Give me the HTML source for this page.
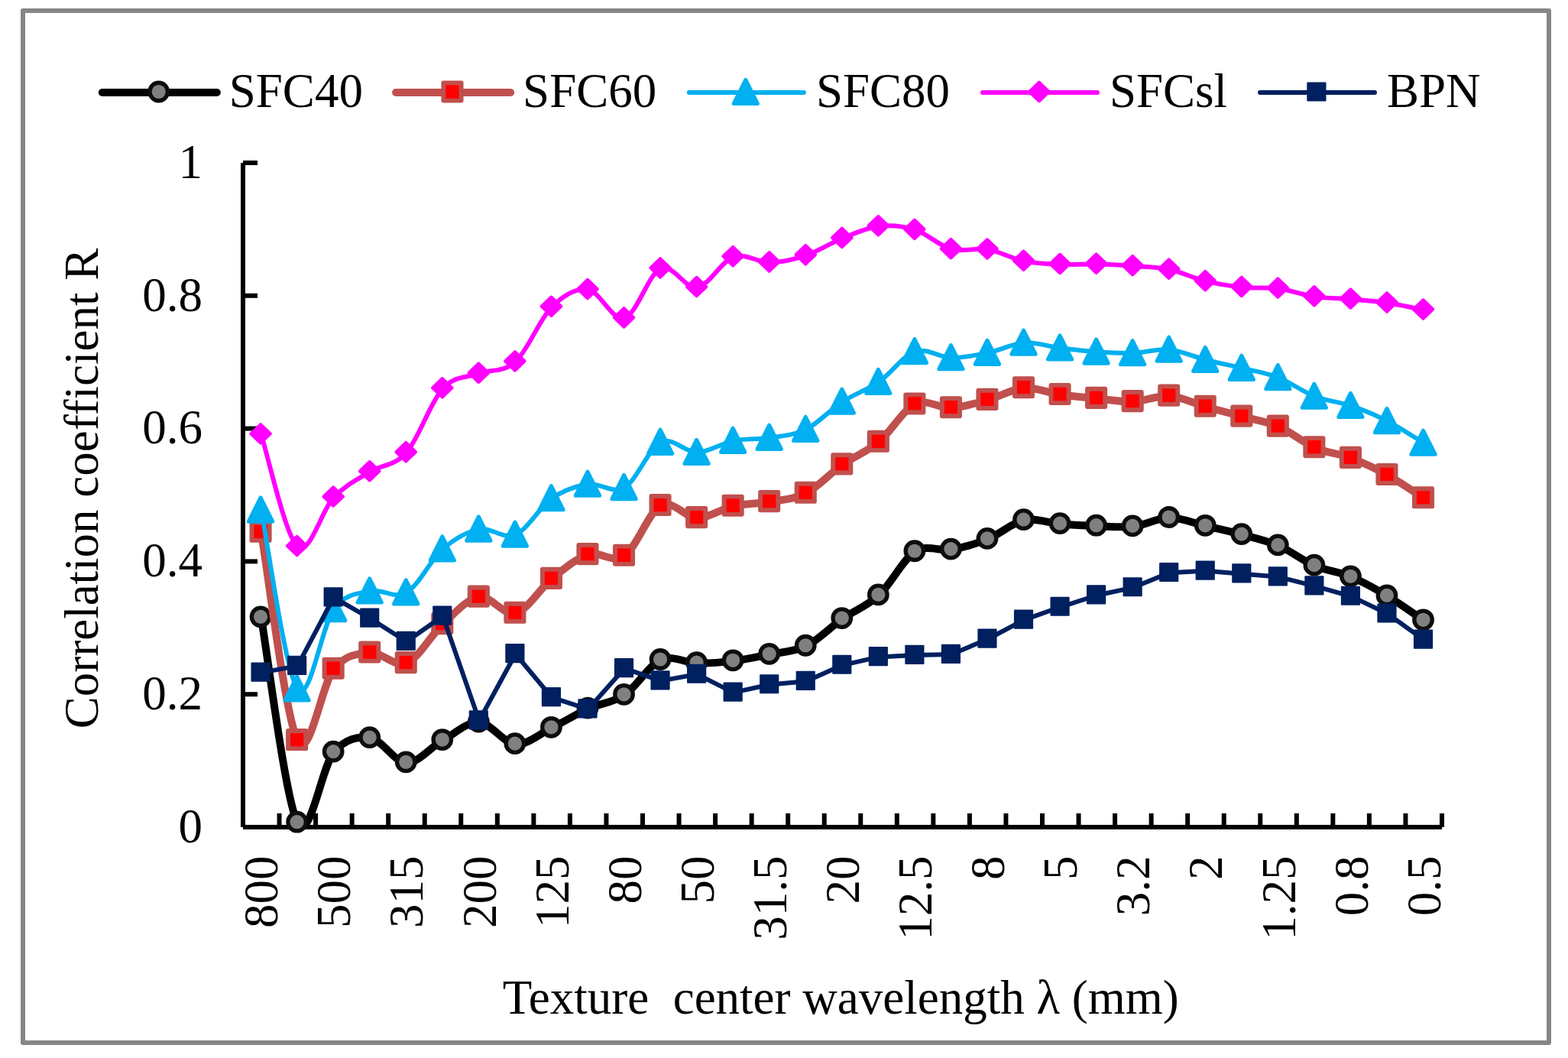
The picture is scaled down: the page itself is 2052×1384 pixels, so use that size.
<!DOCTYPE html>
<html><head><meta charset="utf-8"><title>Correlation coefficient chart</title>
<style>
html,body{margin:0;padding:0;background:#fff;}
body{width:2052px;height:1384px;overflow:hidden;}
svg{display:block;}
text{font-family:"Liberation Serif","Times New Roman",serif;fill:#000;}
</style></head><body>
<svg width="2052" height="1384" viewBox="0 0 2052 1384">
<defs>
<g id="mc"><circle r="11.75" fill="#808080" stroke="#0D0D0D" stroke-width="5.3"/></g>
<g id="ms"><rect x="-11.6" y="-11.6" width="23.2" height="23.2" fill="#FF0000" stroke="#C0504D" stroke-width="5.9" stroke-linejoin="round"/></g>
<g id="mt"><path d="M0 -15.6L15.65 15.6L-15.65 15.6Z" fill="#00B0F0" stroke="#00B0F0" stroke-width="5" stroke-linejoin="round"/></g>
<g id="md"><path d="M0 -12.3L12.8 0L0 12.3L-12.8 0Z" fill="#FF00FF" stroke="#FF00FF" stroke-width="4" stroke-linejoin="round"/></g>
<g id="mb"><rect x="-11.6" y="-11.6" width="23.2" height="23.2" fill="#002060" stroke="#002060" stroke-width="2" stroke-linejoin="round"/></g>
<clipPath id="pa"><rect x="318" y="150" width="1600" height="935"/></clipPath>
</defs>
<rect x="0" y="0" width="2052" height="1384" fill="#fff"/>
<rect x="30" y="14" width="1997" height="1350" fill="none" stroke="#868686" stroke-width="6" stroke-linejoin="round"/>

<path d="M318 213V1082" stroke="#000" stroke-width="6" fill="none"/>
<path d="M318 1082H1887" stroke="#000" stroke-width="6" fill="none"/>
<path d="M318 1082H337" stroke="#000" stroke-width="6"/>
<path d="M318 908.2H337" stroke="#000" stroke-width="6"/>
<path d="M318 734.4H337" stroke="#000" stroke-width="6"/>
<path d="M318 560.6H337" stroke="#000" stroke-width="6"/>
<path d="M318 386.8H337" stroke="#000" stroke-width="6"/>
<path d="M318 213H337" stroke="#000" stroke-width="6"/>
<path d="M365.55 1064V1082" stroke="#000" stroke-width="6"/>
<path d="M413.09 1064V1082" stroke="#000" stroke-width="6"/>
<path d="M460.64 1064V1082" stroke="#000" stroke-width="6"/>
<path d="M508.18 1064V1082" stroke="#000" stroke-width="6"/>
<path d="M555.73 1064V1082" stroke="#000" stroke-width="6"/>
<path d="M603.27 1064V1082" stroke="#000" stroke-width="6"/>
<path d="M650.82 1064V1082" stroke="#000" stroke-width="6"/>
<path d="M698.36 1064V1082" stroke="#000" stroke-width="6"/>
<path d="M745.91 1064V1082" stroke="#000" stroke-width="6"/>
<path d="M793.45 1064V1082" stroke="#000" stroke-width="6"/>
<path d="M841 1064V1082" stroke="#000" stroke-width="6"/>
<path d="M888.55 1064V1082" stroke="#000" stroke-width="6"/>
<path d="M936.09 1064V1082" stroke="#000" stroke-width="6"/>
<path d="M983.64 1064V1082" stroke="#000" stroke-width="6"/>
<path d="M1031.18 1064V1082" stroke="#000" stroke-width="6"/>
<path d="M1078.73 1064V1082" stroke="#000" stroke-width="6"/>
<path d="M1126.27 1064V1082" stroke="#000" stroke-width="6"/>
<path d="M1173.82 1064V1082" stroke="#000" stroke-width="6"/>
<path d="M1221.36 1064V1082" stroke="#000" stroke-width="6"/>
<path d="M1268.91 1064V1082" stroke="#000" stroke-width="6"/>
<path d="M1316.45 1064V1082" stroke="#000" stroke-width="6"/>
<path d="M1364 1064V1082" stroke="#000" stroke-width="6"/>
<path d="M1411.55 1064V1082" stroke="#000" stroke-width="6"/>
<path d="M1459.09 1064V1082" stroke="#000" stroke-width="6"/>
<path d="M1506.64 1064V1082" stroke="#000" stroke-width="6"/>
<path d="M1554.18 1064V1082" stroke="#000" stroke-width="6"/>
<path d="M1601.73 1064V1082" stroke="#000" stroke-width="6"/>
<path d="M1649.27 1064V1082" stroke="#000" stroke-width="6"/>
<path d="M1696.82 1064V1082" stroke="#000" stroke-width="6"/>
<path d="M1744.36 1064V1082" stroke="#000" stroke-width="6"/>
<path d="M1791.91 1064V1082" stroke="#000" stroke-width="6"/>
<path d="M1839.45 1064V1082" stroke="#000" stroke-width="6"/>
<path d="M1887 1064V1082" stroke="#000" stroke-width="6"/>
<text x="265" y="1101.8" font-size="63" text-anchor="end">0</text>
<text x="265" y="928" font-size="63" text-anchor="end">0.2</text>
<text x="265" y="754.2" font-size="63" text-anchor="end">0.4</text>
<text x="265" y="580.4" font-size="63" text-anchor="end">0.6</text>
<text x="265" y="406.6" font-size="63" text-anchor="end">0.8</text>
<text x="265" y="232.8" font-size="63" text-anchor="end">1</text>
<text transform="translate(363.27 1119.5) rotate(-90)" font-size="63" text-anchor="end">800</text>
<text transform="translate(458.36 1119.5) rotate(-90)" font-size="63" text-anchor="end">500</text>
<text transform="translate(553.45 1119.5) rotate(-90)" font-size="63" text-anchor="end">315</text>
<text transform="translate(648.55 1119.5) rotate(-90)" font-size="63" text-anchor="end">200</text>
<text transform="translate(743.64 1119.5) rotate(-90)" font-size="63" text-anchor="end">125</text>
<text transform="translate(838.73 1119.5) rotate(-90)" font-size="63" text-anchor="end">80</text>
<text transform="translate(933.82 1119.5) rotate(-90)" font-size="63" text-anchor="end">50</text>
<text transform="translate(1028.91 1119.5) rotate(-90)" font-size="63" text-anchor="end">31.5</text>
<text transform="translate(1124 1119.5) rotate(-90)" font-size="63" text-anchor="end">20</text>
<text transform="translate(1219.09 1119.5) rotate(-90)" font-size="63" text-anchor="end">12.5</text>
<text transform="translate(1314.18 1119.5) rotate(-90)" font-size="63" text-anchor="end">8</text>
<text transform="translate(1409.27 1119.5) rotate(-90)" font-size="63" text-anchor="end">5</text>
<text transform="translate(1504.36 1119.5) rotate(-90)" font-size="63" text-anchor="end">3.2</text>
<text transform="translate(1599.45 1119.5) rotate(-90)" font-size="63" text-anchor="end">2</text>
<text transform="translate(1694.55 1119.5) rotate(-90)" font-size="63" text-anchor="end">1.25</text>
<text transform="translate(1789.64 1119.5) rotate(-90)" font-size="63" text-anchor="end">0.8</text>
<text transform="translate(1884.73 1119.5) rotate(-90)" font-size="63" text-anchor="end">0.5</text>
<text transform="translate(128.2 639) rotate(-90)" font-size="63" text-anchor="middle">Correlation coefficient R</text>
<text x="1100.2" y="1326.4" font-size="63" text-anchor="middle" xml:space="preserve">Texture  center wavelength λ (mm)</text>
<path clip-path="url(#pa)" fill="none" stroke-linejoin="round" stroke-linecap="round" d="M341.77 807.67C349.7 852.4 373.47 1046.65 389.32 1076.02C405.17 1105.39 421.02 1002.35 436.86 983.91C452.71 965.47 468.56 963.11 484.41 965.4C500.26 967.69 516.11 997.15 531.95 997.64C547.8 998.13 563.65 977.14 579.5 968.35C595.35 959.56 611.2 944.04 627.05 944.89C642.89 945.74 658.74 972.28 674.59 973.48C690.44 974.68 706.29 959.85 722.14 952.1C737.98 944.35 753.83 934.16 769.68 926.99C785.53 919.82 801.38 919.7 817.23 909.09C833.08 898.47 848.92 870.23 864.77 863.29C880.62 856.35 896.47 867.24 912.32 867.46C928.17 867.68 944.02 866.49 959.86 864.59C975.71 862.7 991.56 859.34 1007.41 856.08C1023.26 852.82 1039.11 852.83 1054.95 845.04C1070.8 837.25 1086.65 820.38 1102.5 809.33C1118.35 798.27 1134.2 793.37 1150.05 778.74C1165.89 764.11 1181.74 731.54 1197.59 721.56C1213.44 711.58 1229.29 721.59 1245.14 718.86C1260.98 716.14 1276.83 711.62 1292.68 705.22C1308.53 698.82 1324.38 683.76 1340.23 680.45C1356.08 677.15 1371.92 684.15 1387.77 685.41C1403.62 686.67 1419.47 687.46 1435.32 688.01C1451.17 688.56 1467.02 690.49 1482.86 688.71C1498.71 686.93 1514.56 677.43 1530.41 677.32C1546.26 677.22 1562.11 684.42 1577.95 688.1C1593.8 691.78 1609.65 695.12 1625.5 699.4C1641.35 703.67 1657.2 706.97 1673.05 713.74C1688.89 720.5 1704.74 733.17 1720.59 739.98C1736.44 746.79 1752.29 747.96 1768.14 754.58C1783.98 761.2 1799.83 770.19 1815.68 779.69C1831.53 789.19 1855.3 806.27 1863.23 811.59" stroke="#000000" stroke-width="10"/>
<g><use href="#mc" x="341.07" y="806.87"/><use href="#mc" x="388.62" y="1075.22"/><use href="#mc" x="436.16" y="983.11"/><use href="#mc" x="483.71" y="964.6"/><use href="#mc" x="531.25" y="996.84"/><use href="#mc" x="578.8" y="967.55"/><use href="#mc" x="626.35" y="944.09"/><use href="#mc" x="673.89" y="972.68"/><use href="#mc" x="721.44" y="951.3"/><use href="#mc" x="768.98" y="926.19"/><use href="#mc" x="816.53" y="908.29"/><use href="#mc" x="864.07" y="862.49"/><use href="#mc" x="911.62" y="866.66"/><use href="#mc" x="959.16" y="863.79"/><use href="#mc" x="1006.71" y="855.28"/><use href="#mc" x="1054.25" y="844.24"/><use href="#mc" x="1101.8" y="808.53"/><use href="#mc" x="1149.35" y="777.94"/><use href="#mc" x="1196.89" y="720.76"/><use href="#mc" x="1244.44" y="718.06"/><use href="#mc" x="1291.98" y="704.42"/><use href="#mc" x="1339.53" y="679.65"/><use href="#mc" x="1387.07" y="684.61"/><use href="#mc" x="1434.62" y="687.21"/><use href="#mc" x="1482.16" y="687.91"/><use href="#mc" x="1529.71" y="676.52"/><use href="#mc" x="1577.25" y="687.3"/><use href="#mc" x="1624.8" y="698.6"/><use href="#mc" x="1672.35" y="712.94"/><use href="#mc" x="1719.89" y="739.18"/><use href="#mc" x="1767.44" y="753.78"/><use href="#mc" x="1814.98" y="778.89"/><use href="#mc" x="1862.53" y="810.79"/></g>
<path clip-path="url(#pa)" fill="none" stroke-linejoin="round" stroke-linecap="round" d="M341.77 696.1C349.7 741.47 373.47 938.53 389.32 968.35C405.17 998.17 421.02 894.11 436.86 875.02C452.71 855.93 468.56 855.08 484.41 853.82C500.26 852.56 516.11 873.69 531.95 867.46C547.8 861.23 563.65 830.88 579.5 816.45C595.35 802.03 611.2 783.3 627.05 780.91C642.89 778.52 658.74 806.07 674.59 802.11C690.44 798.16 706.29 769.97 722.14 757.19C737.98 744.4 753.83 730.41 769.68 725.38C785.53 720.35 801.38 737.71 817.23 727.03C833.08 716.36 848.92 669.6 864.77 661.34C880.62 653.07 896.47 677.3 912.32 677.41C928.17 677.53 944.02 665.52 959.86 662.03C975.71 658.54 991.56 659.29 1007.41 656.47C1023.26 653.64 1039.11 653.21 1054.95 645.08C1070.8 636.96 1086.65 618.88 1102.5 607.72C1118.35 596.55 1134.2 591.25 1150.05 578.08C1165.89 564.92 1181.74 536.16 1197.59 528.73C1213.44 521.3 1229.29 534.43 1245.14 533.51C1260.98 532.58 1276.83 527.49 1292.68 523.16C1308.53 518.83 1324.38 508.67 1340.23 507.52C1356.08 506.38 1371.92 514.03 1387.77 516.3C1403.62 518.57 1419.47 519.64 1435.32 521.17C1451.17 522.69 1467.02 525.96 1482.86 525.42C1498.71 524.89 1514.56 516.85 1530.41 517.95C1546.26 519.05 1562.11 527.54 1577.95 532.03C1593.8 536.52 1609.65 540.57 1625.5 544.89C1641.35 549.21 1657.2 551.15 1673.05 557.92C1688.89 564.7 1704.74 578.68 1720.59 585.56C1736.44 592.44 1752.29 593.25 1768.14 599.2C1783.98 605.15 1799.83 612.54 1815.68 621.27C1831.53 630.01 1855.3 646.55 1863.23 651.6" stroke="#C0504D" stroke-width="10"/>
<g><use href="#ms" x="341.07" y="695.3"/><use href="#ms" x="388.62" y="967.55"/><use href="#ms" x="436.16" y="874.22"/><use href="#ms" x="483.71" y="853.02"/><use href="#ms" x="531.25" y="866.66"/><use href="#ms" x="578.8" y="815.65"/><use href="#ms" x="626.35" y="780.11"/><use href="#ms" x="673.89" y="801.31"/><use href="#ms" x="721.44" y="756.39"/><use href="#ms" x="768.98" y="724.58"/><use href="#ms" x="816.53" y="726.23"/><use href="#ms" x="864.07" y="660.54"/><use href="#ms" x="911.62" y="676.61"/><use href="#ms" x="959.16" y="661.23"/><use href="#ms" x="1006.71" y="655.67"/><use href="#ms" x="1054.25" y="644.28"/><use href="#ms" x="1101.8" y="606.92"/><use href="#ms" x="1149.35" y="577.28"/><use href="#ms" x="1196.89" y="527.93"/><use href="#ms" x="1244.44" y="532.71"/><use href="#ms" x="1291.98" y="522.36"/><use href="#ms" x="1339.53" y="506.72"/><use href="#ms" x="1387.07" y="515.5"/><use href="#ms" x="1434.62" y="520.37"/><use href="#ms" x="1482.16" y="524.62"/><use href="#ms" x="1529.71" y="517.15"/><use href="#ms" x="1577.25" y="531.23"/><use href="#ms" x="1624.8" y="544.09"/><use href="#ms" x="1672.35" y="557.12"/><use href="#ms" x="1719.89" y="584.76"/><use href="#ms" x="1767.44" y="598.4"/><use href="#ms" x="1814.98" y="620.47"/><use href="#ms" x="1862.53" y="650.8"/></g>
<path clip-path="url(#pa)" fill="none" stroke-linejoin="round" stroke-linecap="round" d="M341.77 667.33C349.7 706.32 373.47 879.67 389.32 901.27C405.17 922.86 421.02 818.23 436.86 796.9C452.71 775.57 468.56 776.88 484.41 773.26C500.26 769.64 516.11 784.34 531.95 775.17C547.8 766.01 563.65 732.06 579.5 718.25C595.35 704.45 611.2 695.5 627.05 692.36C642.89 689.22 658.74 706.12 674.59 699.4C690.44 692.68 706.29 663.03 722.14 652.04C737.98 641.04 753.83 635.8 769.68 633.44C785.53 631.08 801.38 647.01 817.23 637.87C833.08 628.73 848.92 586.28 864.77 578.61C880.62 570.93 896.47 592.15 912.32 591.82C928.17 591.48 944.02 579.81 959.86 576.61C975.71 573.41 991.56 575.1 1007.41 572.61C1023.26 570.12 1039.11 569.53 1054.95 561.66C1070.8 553.8 1086.65 535.75 1102.5 525.42C1118.35 515.1 1134.2 510.62 1150.05 499.7C1165.89 488.78 1181.74 465.19 1197.59 459.9C1213.44 454.61 1229.29 467.69 1245.14 467.98C1260.98 468.27 1276.83 464.9 1292.68 461.64C1308.53 458.38 1324.38 449.49 1340.23 448.43C1356.08 447.37 1371.92 453.31 1387.77 455.3C1403.62 457.28 1419.47 459.23 1435.32 460.34C1451.17 461.44 1467.02 462.38 1482.86 461.9C1498.71 461.42 1514.56 455.99 1530.41 457.47C1546.26 458.94 1562.11 466.74 1577.95 470.76C1593.8 474.79 1609.65 477.76 1625.5 481.63C1641.35 485.49 1657.2 487.81 1673.05 493.97C1688.89 500.12 1704.74 512.42 1720.59 518.56C1736.44 524.7 1752.29 525.42 1768.14 530.81C1783.98 536.2 1799.83 542.76 1815.68 550.89C1831.53 559.01 1855.3 574.78 1863.23 579.56" stroke="#00B0F0" stroke-width="6"/>
<g><use href="#mt" x="341.07" y="666.53"/><use href="#mt" x="388.62" y="900.47"/><use href="#mt" x="436.16" y="796.1"/><use href="#mt" x="483.71" y="772.46"/><use href="#mt" x="531.25" y="774.37"/><use href="#mt" x="578.8" y="717.45"/><use href="#mt" x="626.35" y="691.56"/><use href="#mt" x="673.89" y="698.6"/><use href="#mt" x="721.44" y="651.24"/><use href="#mt" x="768.98" y="632.64"/><use href="#mt" x="816.53" y="637.07"/><use href="#mt" x="864.07" y="577.81"/><use href="#mt" x="911.62" y="591.02"/><use href="#mt" x="959.16" y="575.81"/><use href="#mt" x="1006.71" y="571.81"/><use href="#mt" x="1054.25" y="560.86"/><use href="#mt" x="1101.8" y="524.62"/><use href="#mt" x="1149.35" y="498.9"/><use href="#mt" x="1196.89" y="459.1"/><use href="#mt" x="1244.44" y="467.18"/><use href="#mt" x="1291.98" y="460.84"/><use href="#mt" x="1339.53" y="447.63"/><use href="#mt" x="1387.07" y="454.5"/><use href="#mt" x="1434.62" y="459.54"/><use href="#mt" x="1482.16" y="461.1"/><use href="#mt" x="1529.71" y="456.67"/><use href="#mt" x="1577.25" y="469.96"/><use href="#mt" x="1624.8" y="480.83"/><use href="#mt" x="1672.35" y="493.17"/><use href="#mt" x="1719.89" y="517.76"/><use href="#mt" x="1767.44" y="530.01"/><use href="#mt" x="1814.98" y="550.09"/><use href="#mt" x="1862.53" y="578.76"/></g>
<path clip-path="url(#pa)" fill="none" stroke-linejoin="round" stroke-linecap="round" d="M341.77 568.18C349.7 592.63 373.47 701.16 389.32 714.87C405.17 728.57 421.02 666.68 436.86 650.39C452.71 634.09 468.56 626.84 484.41 617.1C500.26 607.37 516.11 610.15 531.95 591.99C547.8 573.83 563.65 525.37 579.5 508.13C595.35 490.9 611.2 494.4 627.05 488.58C642.89 482.76 658.74 487.69 674.59 473.2C690.44 458.7 706.29 417.31 722.14 401.59C737.98 385.88 753.83 376.48 769.68 378.91C785.53 381.34 801.38 420.81 817.23 416.19C833.08 411.57 848.92 357.91 864.77 351.19C880.62 344.47 896.47 378.39 912.32 375.87C928.17 373.35 944.02 341.5 959.86 336.07C975.71 330.64 991.56 343.61 1007.41 343.28C1023.26 342.95 1039.11 339.33 1054.95 334.07C1070.8 328.81 1086.65 318.07 1102.5 311.74C1118.35 305.41 1134.2 297.93 1150.05 296.09C1165.89 294.25 1181.74 295.72 1197.59 300.7C1213.44 305.68 1229.29 321.72 1245.14 325.99C1260.98 330.26 1276.83 323.73 1292.68 326.34C1308.53 328.94 1324.38 338.37 1340.23 341.63C1356.08 344.89 1371.92 345.24 1387.77 345.89C1403.62 346.54 1419.47 345.19 1435.32 345.54C1451.17 345.89 1467.02 346.81 1482.86 347.97C1498.71 349.13 1514.56 349.16 1530.41 352.49C1546.26 355.82 1562.11 364.09 1577.95 367.96C1593.8 371.83 1609.65 374.12 1625.5 375.69C1641.35 377.27 1657.2 375.36 1673.05 377.43C1688.89 379.5 1704.74 385.79 1720.59 388.12C1736.44 390.45 1752.29 390.06 1768.14 391.42C1783.98 392.79 1799.83 393.96 1815.68 396.29C1831.53 398.62 1855.3 403.89 1863.23 405.41" stroke="#FF00FF" stroke-width="6"/>
<g><use href="#md" x="341.07" y="567.38"/><use href="#md" x="388.62" y="714.07"/><use href="#md" x="436.16" y="649.59"/><use href="#md" x="483.71" y="616.3"/><use href="#md" x="531.25" y="591.19"/><use href="#md" x="578.8" y="507.33"/><use href="#md" x="626.35" y="487.78"/><use href="#md" x="673.89" y="472.4"/><use href="#md" x="721.44" y="400.79"/><use href="#md" x="768.98" y="378.11"/><use href="#md" x="816.53" y="415.39"/><use href="#md" x="864.07" y="350.39"/><use href="#md" x="911.62" y="375.07"/><use href="#md" x="959.16" y="335.27"/><use href="#md" x="1006.71" y="342.48"/><use href="#md" x="1054.25" y="333.27"/><use href="#md" x="1101.8" y="310.94"/><use href="#md" x="1149.35" y="295.29"/><use href="#md" x="1196.89" y="299.9"/><use href="#md" x="1244.44" y="325.19"/><use href="#md" x="1291.98" y="325.54"/><use href="#md" x="1339.53" y="340.83"/><use href="#md" x="1387.07" y="345.09"/><use href="#md" x="1434.62" y="344.74"/><use href="#md" x="1482.16" y="347.17"/><use href="#md" x="1529.71" y="351.69"/><use href="#md" x="1577.25" y="367.16"/><use href="#md" x="1624.8" y="374.89"/><use href="#md" x="1672.35" y="376.63"/><use href="#md" x="1719.89" y="387.32"/><use href="#md" x="1767.44" y="390.62"/><use href="#md" x="1814.98" y="395.49"/><use href="#md" x="1862.53" y="404.61"/></g>
<path clip-path="url(#pa)" fill="none" stroke-linejoin="round" stroke-linecap="round" d="M341.77 879.89L389.32 871.11L436.86 781.6L484.41 808.98L531.95 839.22L579.5 806.02L627.05 942.63L674.59 855.47L722.14 912.39L769.68 927.68L817.23 874.33L864.77 890.58L912.32 882.06L959.86 905.87L1007.41 895.53L1054.95 891.19L1102.5 870.07L1150.05 859.38L1197.59 857.12L1245.14 856.08L1292.68 836L1340.23 810.89L1387.77 794.03L1435.32 778.74L1482.86 768.57L1530.41 749.28L1577.95 746.84L1625.5 750.67L1673.05 754.58L1720.59 766.66L1768.14 780.04L1815.68 802.81L1863.23 836.87" stroke="#002060" stroke-width="6"/>
<g><use href="#mb" x="341.07" y="879.09"/><use href="#mb" x="388.62" y="870.31"/><use href="#mb" x="436.16" y="780.8"/><use href="#mb" x="483.71" y="808.18"/><use href="#mb" x="531.25" y="838.42"/><use href="#mb" x="578.8" y="805.22"/><use href="#mb" x="626.35" y="941.83"/><use href="#mb" x="673.89" y="854.67"/><use href="#mb" x="721.44" y="911.59"/><use href="#mb" x="768.98" y="926.88"/><use href="#mb" x="816.53" y="873.53"/><use href="#mb" x="864.07" y="889.78"/><use href="#mb" x="911.62" y="881.26"/><use href="#mb" x="959.16" y="905.07"/><use href="#mb" x="1006.71" y="894.73"/><use href="#mb" x="1054.25" y="890.39"/><use href="#mb" x="1101.8" y="869.27"/><use href="#mb" x="1149.35" y="858.58"/><use href="#mb" x="1196.89" y="856.32"/><use href="#mb" x="1244.44" y="855.28"/><use href="#mb" x="1291.98" y="835.2"/><use href="#mb" x="1339.53" y="810.09"/><use href="#mb" x="1387.07" y="793.23"/><use href="#mb" x="1434.62" y="777.94"/><use href="#mb" x="1482.16" y="767.77"/><use href="#mb" x="1529.71" y="748.48"/><use href="#mb" x="1577.25" y="746.04"/><use href="#mb" x="1624.8" y="749.87"/><use href="#mb" x="1672.35" y="753.78"/><use href="#mb" x="1719.89" y="765.86"/><use href="#mb" x="1767.44" y="779.24"/><use href="#mb" x="1814.98" y="802.01"/><use href="#mb" x="1862.53" y="836.07"/></g>
<path d="M133.8 121H283.8" stroke="#000000" stroke-width="10" stroke-linecap="round"/>
<use href="#mc" x="207.7" y="120"/>
<text x="299.8" y="140.4" font-size="63">SFC40</text>
<path d="M518.1 121H668.1" stroke="#C0504D" stroke-width="10" stroke-linecap="round"/>
<use href="#ms" x="592" y="120"/>
<text x="684.1" y="140.4" font-size="63">SFC60</text>
<path d="M901.9 121H1051.9" stroke="#00B0F0" stroke-width="6" stroke-linecap="round"/>
<use href="#mt" x="975.8" y="120"/>
<text x="1067.9" y="140.4" font-size="63">SFC80</text>
<path d="M1286 121H1436" stroke="#FF00FF" stroke-width="6" stroke-linecap="round"/>
<use href="#md" x="1359.9" y="120"/>
<text x="1452" y="140.4" font-size="63">SFCsl</text>
<path d="M1649 121H1799" stroke="#002060" stroke-width="6" stroke-linecap="round"/>
<use href="#mb" x="1722.9" y="120"/>
<text x="1815" y="140.4" font-size="63">BPN</text>
</svg>
</body></html>
